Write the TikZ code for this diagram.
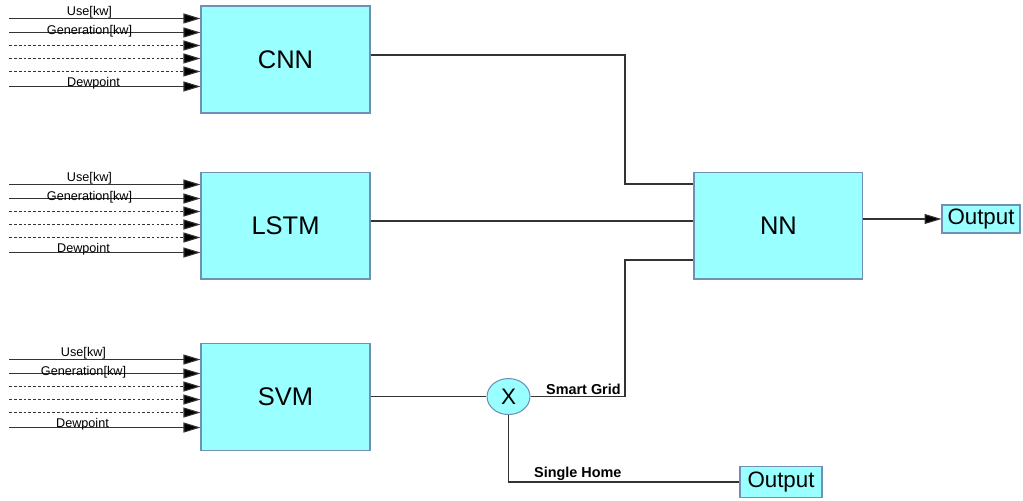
\documentclass[tikz,border=0pt]{standalone}
\usepackage{fontspec}
\setmainfont{Liberation Sans}
\usetikzlibrary{shapes,arrows.meta,positioning,calc}
\definecolor{boxfill}{HTML}{99FFFF}
\definecolor{boxline}{HTML}{7090B8}
\definecolor{wirecol}{HTML}{333333}

\begin{document}
\begin{tikzpicture}[x=0.02cm, y=-0.02cm,
    block/.style={rectangle, draw=boxline, fill=boxfill, line width=0.6pt, minimum width=3.38cm, minimum height=2.14cm, font=\fontsize{14.5}{16}\selectfont},
    outbox/.style={rectangle, draw=boxline, fill=boxfill, line width=0.6pt, inner sep=1pt, font=\fontsize{12.7}{14}\selectfont},
    wire/.style={draw=wirecol, line width=0.6pt},
    feed/.style={wire, -{Triangle[length=0.34cm, width=0.2cm, fill=black]}},
    dotline/.style={dash pattern=on 1.5pt off 1.2pt},
    inlabel/.style={font=\fontsize{7.2}{8}\selectfont, inner sep=0pt},
    tag/.style={font=\bfseries\fontsize{8.2}{9}\selectfont, inner sep=0.8pt}]

    \useasboundingbox (0,0) rectangle (1023,500);

    % Left side - models
    \node[block] (cnn) at (285.5,59.5) {CNN};
    \node[block, below=1.16cm of cnn] (lstm) {LSTM};
    \node[block, below=1.26cm of lstm] (svm) {SVM};

    % Right side - combiner
    \node[block, right=6.46cm of lstm] (nn) {NN};
    \node[outbox, minimum width=1.56cm, minimum height=0.56cm] (outgrid) at (981,219) {Output};
    \node[ellipse, draw=boxline, fill=boxfill, line width=0.6pt, minimum width=0.86cm, minimum height=0.72cm, inner sep=0pt, font=\fontsize{12.8}{14}\selectfont] (mix) at ($(svm.east)+(138,0)$) {X};
    \node[outbox, minimum width=1.64cm, minimum height=0.62cm] (outhome) at (781,482) {Output};

    % Inputs
    \foreach \blk/\ux/\dx/\sh in {cnn/90/94/0, lstm/90/84/0, svm/84/83/4} {
        \foreach \i/\dy/\sty in {1/13/solid, 2/27/solid, 3/40/dotline, 4/53/dotline, 5/66/dotline, 6/81/solid} {
            \coordinate (\blk-in\i) at ($(\blk.north west) + (-191,\dy+\sh)$);
            \draw[feed, \sty] (\blk-in\i) -- (\blk-in\i -| \blk.west);
        }
        \node[inlabel] (\blk-use) at ($(\blk.north west) + (\ux-201,7+\sh)$) {Use[kw]};
        \node[inlabel] (\blk-gen) at ($(\blk.north west) + (\ux-201,26+\sh)$) {Generation[kw]};
        \node[inlabel] (\blk-dew) at ($(\blk.north west) + (\dx-201,78+\sh)$) {Dewpoint};
    }

    % Arrows
    \coordinate (cnnbend) at (625,184);
    \coordinate (gridbend) at (625,260);
    \draw[wire] ([yshift=0.09cm]cnn.east) -| (cnnbend) -- (cnnbend -| nn.west);
    \draw[wire] ([yshift=0.09cm]lstm.east) -- ([yshift=0.09cm]nn.west);
    \draw[wire] (svm.east) -- (mix.west);
    \draw[wire] (mix.east) -| node[tag, above, pos=0.28] (gridtag) {Smart Grid} (gridbend) -- (gridbend -| nn.west);
    \draw[wire] (mix.south) |- node[tag, above, pos=0.65] (hometag) {Single Home} (outhome.west);
    \draw[feed] (nn.east |- outgrid.west) -- (outgrid.west);

\end{tikzpicture}
\end{document}
